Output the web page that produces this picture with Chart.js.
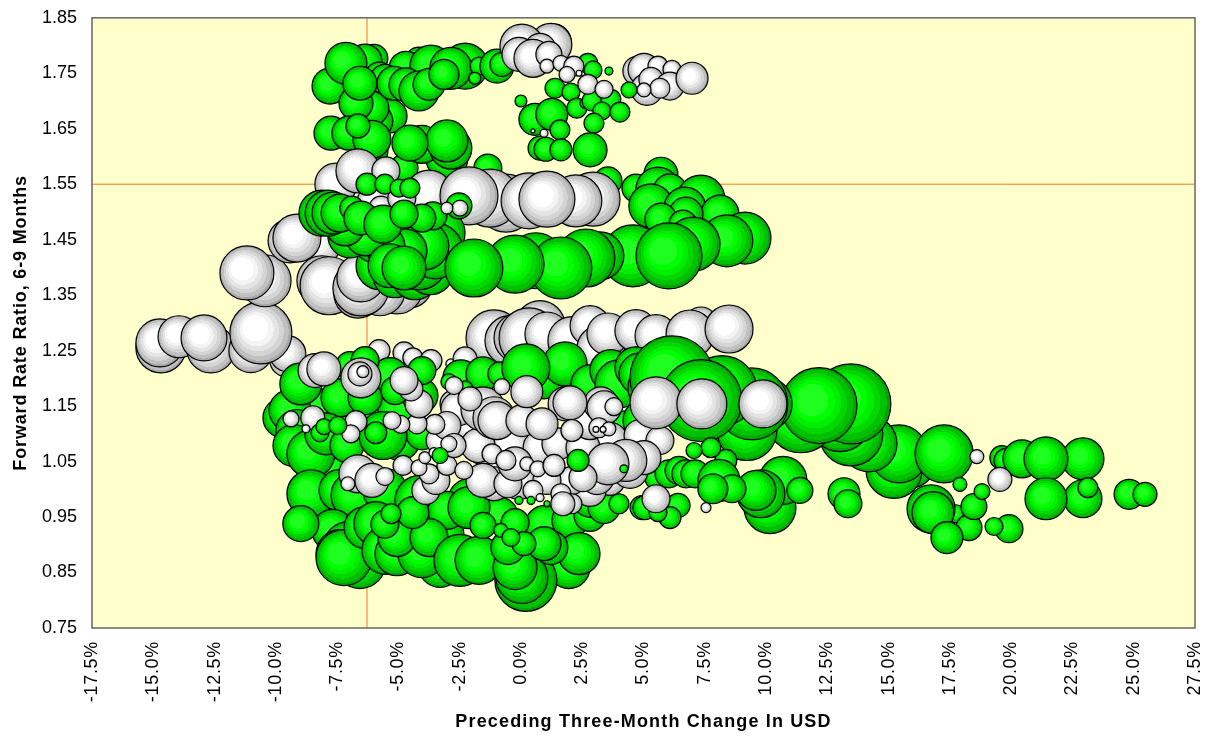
<!DOCTYPE html>
<html>
<head>
  <title>Forward Rate Ratio</title>
  <script src="https://cdn.jsdelivr.net/npm/chart.js"></script>
  <style>
    html, body { margin: 0; padding: 0; background: #fff; }
    #wrap { width: 1207px; height: 736px; }
  </style>
</head>
<body>
  <div id="wrap"><canvas id="chart"></canvas></div>
  <script>
    // each bubble is [usd change %, forward ratio, bubble size]; arrays are listed back to front
    const whiteFar = [
      [-14.69,1.255,25],[-14.73,1.264,24],[-13.95,1.275,21],[-12.65,1.253,24],[-12.93,1.273,23],
      [-11.02,1.25,22],[-9.59,1.232,16],[-9.51,1.244,18],[-10.61,1.282,31],
      [-10.44,1.376,26],[-11.18,1.39,27],[-8.2,1.439,20],[-9.42,1.448,22],[-9.14,1.453,24],
      [-8.12,1.376,25],[-7.83,1.367,29],[-4.53,1.367,22],[-5.06,1.363,26],[-5.75,1.358,25],
      [-6.65,1.352,24],[-6.53,1.363,28],[-6.53,1.381,24],
      [-1.1,1.273,28],[-0.45,1.268,25],[-0.08,1.273,25],[0.78,1.295,25],[0.33,1.273,30],
      [1.22,1.255,24],[1.06,1.28,22],[2.08,1.268,24],[2.82,1.295,20],[3.26,1.253,24],[3.55,1.28,21],
      [4.69,1.286,21],[5.51,1.277,21],[7.34,1.298,17],[6.9,1.28,24],[8.49,1.289,24],
      [-5.79,1.25,11],[-4.77,1.246,11],[-4.41,1.237,10],[-3.67,1.232,11],[-2.86,1.226,5],[-2.28,1.235,12]
    ];
    const greenFar = [
      [-7.79,1.727,18],[-6.0,1.777,14],[-6.36,1.772,17],[-7.14,1.768,21],
      [-5.34,1.673,17],[-5.92,1.664,17],[-6.08,1.687,17],[-6.73,1.696,17],
      [-4.16,1.772,14],[-4.69,1.759,17],[-3.67,1.763,21],[-2.28,1.763,23],[-2.86,1.759,21],
      [-1.71,1.763,9],[-1.88,1.741,6],[-0.98,1.763,17],[-0.78,1.766,12],
      [-5.79,1.745,14],[-5.55,1.739,15],[-5.18,1.732,17],[-4.69,1.729,17],[-4.16,1.718,20],
      [-3.75,1.73,16],[-3.14,1.748,15],[-6.57,1.732,17],
      [-7.75,1.642,17],[-7.02,1.642,17],[-6.08,1.61,16],[-6.08,1.631,19],[-6.65,1.655,12],
      [-4.77,1.579,14],[-1.35,1.579,14],[3.55,1.556,14],[-3.02,1.597,21],[-4.04,1.622,19],
      [-2.86,1.615,21],[-3.02,1.628,21],[-4.53,1.624,18],
      [5.71,1.568,17],[4.69,1.543,14],[5.59,1.541,22],[6.08,1.538,17],[7.34,1.523,24],[5.3,1.511,22],
      [6.69,1.507,21],[8.12,1.496,19],[6.73,1.496,17],[5.71,1.487,16],[6.61,1.478,14],
      [-8.2,1.142,22],[-6.98,1.142,20],[-7.79,1.043,22],[-8.4,1.088,24],[-6.16,1.133,22],[-4.94,1.142,22],
      [-4.94,1.088,20],[-7.18,1.205,18],[-5.34,1.205,18],[-4.12,1.169,18],
      [-9.71,1.129,20],[-9.42,1.142,21],[-8.98,1.19,21],[-9.14,1.106,21],[-9.26,1.079,21],[-8.57,1.064,24],
      [-7.38,1.165,19],[-6.36,1.165,17],[-6.98,1.223,14],[-6.36,1.232,14],[-4.04,1.214,14],[-5.14,1.178,14],
      [-7.96,1.1,21],[-7.1,1.079,17],[-4.04,1.1,16],[-5.63,1.097,24],
      [-8.57,0.992,24],[-7.38,0.998,21]
    ];
    const whiteRow = [
      [-7.55,1.55,21],[-6.65,1.574,22],[-5.51,1.574,14],[-3.3,1.532,17],[-3.75,1.532,24],
      [-5.92,1.516,19],[-5.71,1.507,12],[-4.86,1.525,14],
      [-0.61,1.516,29],[-1.26,1.525,29],[-2.12,1.529,29],[2.94,1.523,27],[2.24,1.52,26],[0.33,1.52,28],[1.06,1.523,28]
    ];
    const greenLow = [
      [-6.77,0.989,24],[-5.55,0.998,22],[-4.12,0.98,25],[-2.08,0.98,22],[-0.86,0.953,18],[0.98,0.935,20],[2.0,0.944,18],[2.82,0.953,16],
      [-3.3,0.917,24],[-3.3,0.863,22],[-6.57,0.868,26],
      [-7.67,0.926,21],[-7.02,0.895,26],[-7.38,0.884,24],[-7.22,0.877,28],[-8.98,0.938,18],
      [-3.02,0.962,19],[-2.12,0.967,21],[-6.36,0.931,21],[-5.92,0.938,22],
      [-5.51,0.89,24],[-5.06,0.884,22],[-4.04,0.884,24],[-5.06,0.913,19],[-3.75,0.913,19],[-4.41,0.958,16],
      [-2.49,0.872,26],[-1.71,0.872,24],[1.96,0.859,21],[2.37,0.884,21],[0.2,0.836,31],[0.04,0.841,26],
      [-0.24,0.859,22],[1.22,0.895,17],[0.94,0.902,17],[-0.53,0.895,17],[-0.24,0.94,14],[0.12,0.902,12],
      [-5.55,0.937,14],[-5.3,0.956,10],[-1.55,0.935,13],[-0.82,0.926,7],[-0.41,0.913,9],
      [2.82,0.98,17],[3.39,0.967,16],[4.0,0.974,10],[4.94,0.967,12]
    ];
    const greenBand = [
      [-5.75,1.403,24],[-5.14,1.385,22],[-4.32,1.385,24],[-3.71,1.394,24],
      [-4.16,1.412,29],[-3.3,1.462,25],[-4.12,1.457,22],[-5.14,1.448,22],[-5.96,1.448,22],[-6.98,1.457,22],
      [-4.53,1.43,25],[-3.51,1.43,28],[-3.92,1.439,24],[-4.73,1.43,22],[-5.55,1.439,20],[-6.36,1.457,20],[-7.18,1.475,20],
      [-5.34,1.403,22],[-4.77,1.399,22],
      [-8.12,1.498,23],[-7.87,1.498,23],[-7.67,1.498,21],[-7.38,1.498,19],[-6.9,1.507,12],[-6.53,1.489,17],
      [-5.63,1.478,19],[-3.59,1.493,14],[-4.04,1.489,14],[-4.77,1.496,14],
      [9.14,1.453,26],[8.4,1.448,26],[7.02,1.442,27],[4.57,1.421,31],[6.04,1.421,33],[3.22,1.421,24],
      [2.65,1.417,29],[0.61,1.412,28],[1.63,1.399,31],[-0.24,1.406,29],[-1.92,1.399,29],
      [17.38,1.066,26],[15.91,1.046,24],[15.22,1.034,28],[15.42,1.064,29],[17.26,1.064,29],
      [14.2,1.082,28],[13.46,1.1,32],[13.02,1.124,31],[11.42,1.129,35],[13.46,1.154,40],[12.16,1.151,38],
      [-2.45,1.201,18],[-1.55,1.208,17],[-0.86,1.208,12],[0.94,1.201,21],[1.8,1.226,22],[0.2,1.219,24],
      [2.82,1.19,19],[3.67,1.214,21],[4.0,1.19,24],[4.69,1.219,21],[4.86,1.208,21],[4.28,1.111,17],[5.02,1.124,21],
      [9.22,1.106,30],[9.96,1.154,27],[9.42,1.154,36],[8.2,1.178,35],[5.51,1.183,28],[6.16,1.201,42],[7.34,1.16,41],
      [19.62,1.057,12],[19.79,1.052,12],[20.44,1.055,19],[22.93,1.055,21],[21.42,1.055,22],
      [22.93,0.983,19],[23.13,1.003,10],[21.42,0.983,21],[24.81,0.991,15],[25.46,0.991,12],
      [17.75,0.956,9],[16.73,0.965,24],[16.81,0.958,21],[18.24,0.944,7],[18.28,0.931,13],[17.38,0.913,16],
      [18.48,0.969,13],[17.91,1.009,7],[18.81,0.996,8],[19.91,0.929,14],[19.3,0.933,9],
      [13.18,0.992,16],[13.34,0.974,14],[10.16,0.967,26],[10.69,1.016,24],[9.79,0.992,24],[9.59,0.998,20],[11.38,0.998,13],
      [8.36,1.052,11],[7.75,1.075,10],[7.06,1.07,8],[6.41,0.971,12],[6.08,0.949,11],[5.06,0.967,12],[5.59,0.958,9],
      [5.59,1.021,13],[6.04,1.028,14],[6.45,1.034,14],[6.73,1.028,14],[7.1,1.028,14],[8.08,1.016,21],[8.61,1.001,14],[7.83,1.001,15]
    ];
    const whiteMid = [
      [-1.26,1.034,14],[3.63,1.016,15],[4.45,1.034,18],[2.82,0.998,16],[-2.08,1.115,16],[-3.3,1.088,14],[3.63,1.088,18],[4.86,1.097,16],[5.67,1.088,14],
      [-1.55,1.075,17],[-0.41,1.075,21],[0.78,1.075,17],[1.51,1.082,16],[2.53,1.075,17],
      [2.82,1.124,19],[1.8,1.154,17],[3.26,1.154,17],[-0.08,1.016,19],[2.08,1.016,14],[3.1,1.021,17],
      [5.02,1.057,17],[4.28,1.052,21],[3.55,1.046,21],[2.53,1.021,14],[1.06,1.016,14],[0.49,0.998,10],
      [-1.1,1.01,17],[-1.55,1.016,17],[-0.53,1.01,14],[-0.24,1.046,17],[-1.75,1.079,17],
      [-2.73,1.154,14],[-2.57,1.145,17],[-1.55,1.145,22],[-1.1,1.129,21],[-0.98,1.124,19],[0.04,1.124,16],
      [0.86,1.118,16],[2.0,1.156,17],[3.39,1.147,17],[2.08,1.106,11],
      [-3.02,1.115,14],[-3.51,1.117,10],[-4.24,1.118,10],[-4.9,1.117,9],[-5.26,1.124,9],[-6.73,1.122,11],
      [-8.49,1.129,12],[-9.38,1.127,8],[-8.77,1.109,4],[-6.94,1.1,9],
      [-8.4,1.214,17],[-8.04,1.217,17],[-6.53,1.201,20],[-4.16,1.154,14],[-4.49,1.181,12],[-4.77,1.196,14],
      [-6.65,1.028,19],[-6.08,1.016,17],[-7.06,1.01,7],[-5.55,1.023,9],[-3.88,0.998,14],[-3.47,1.016,14],
      [-3.75,1.028,10],[-4.81,1.043,10],[-4.16,1.039,8],[-3.92,1.057,6],[-3.55,1.066,5],[-3.02,1.043,10],
      [-2.33,1.034,9],[-2.73,1.079,12],[-2.94,1.082,8],[-1.18,1.064,10],[-0.61,1.052,10],[0.24,1.046,7],[0.69,1.037,8],[1.35,1.043,11],
      [1.63,0.992,10],[2.08,0.974,10],[1.71,0.974,12],[0.78,0.985,4],[5.51,0.983,14],[7.55,0.967,5],
      [18.6,1.059,7],[19.54,1.018,12]
    ];
    const greenSmall = [
      [-8.2,1.102,9],[-8.04,1.113,8],[-7.47,1.115,9],[-5.92,1.102,11],[-2.94,1.194,8],[-2.28,1.181,8],[-3.3,1.061,8],
      [2.33,1.052,11],[4.2,1.037,4],[1.06,0.974,3],[-0.08,0.98,4],[0.41,0.98,4],
      [-6.28,1.55,11],[-5.55,1.55,10],[-4.98,1.543,9],[-4.53,1.543,10],[-2.53,1.511,13],
      [1.39,1.723,10],[2.04,1.716,9],[0,1.7,6],[0.57,1.667,16],[1.26,1.676,16],[2.28,1.687,10],[2.61,1.696,5],
      [2.9,1.7,10],[3.67,1.703,10],[3.3,1.682,9],[4.04,1.68,10],[2.98,1.66,10],[1.59,1.648,10],[0.78,1.615,12],
      [1.02,1.613,12],[1.63,1.612,11],[2.82,1.612,17],[2.73,1.768,10],[2.94,1.756,9],[3.59,1.754,4]
    ];
    const whiteTop = [
      [5.51,1.156,26],[7.38,1.154,25],[9.87,1.154,24],
      [-0.78,1.185,8],[-2.73,1.187,9],[-2.08,1.163,12],[0.24,1.176,16],[3.79,1.149,9],[3.18,1.111,10],[3.59,1.109,7],
      [3.35,1.108,3],[3.06,1.108,3],[-6.57,1.208,12],[-6.45,1.212,6],
      [-2.49,1.507,8],[-3.02,1.507,6],[0.94,1.642,4],[0.49,1.646,2],
      [1.35,1.808,17],[1.22,1.802,21],[0.04,1.799,22],[0.78,1.793,16],[-0.08,1.784,17],[0.49,1.777,19],[1.14,1.784,13],[1.06,1.763,7],
      [1.63,1.768,8],[2.16,1.763,10],[1.88,1.748,8],[2.37,1.75,3],[2.73,1.73,10],[3.39,1.721,9],
      [4.77,1.754,15],[5.02,1.757,16],[5.59,1.763,10],[6.16,1.757,9],[5.14,1.721,16],[5.3,1.739,12],[6.08,1.727,14],[6.98,1.741,16],[5.67,1.723,10]
    ];
    const greenFront = [[4.41,1.72,8]];
    const whiteFront = [[5.02,1.72,7]];

    const xTicksMin = -17.5, xTicksMax = 27.5, xStep = 2.5;
    const yTicksMin = 0.75, yTicksMax = 1.85, yStep = 0.1;
    const refX = -6.28, refY = 1.55;

    const greenBands = ['#1fff1f','#00ff00','#00ee00','#00d800','#00c000','#00a400'];
    const whiteBands = ['#ffffff','#f4f4f4','#e4e4e4','#d4d4d4','#c0c0c0','#a8a8a8'];
    const bandEdges = [0.42, 0.55, 0.68, 0.8, 0.92, 1];

    // stepped radial fill, lit from upper left like the old office 3D bubbles
    function shaded(bands) {
      return function (ctx) {
        const raw = ctx.raw;
        const sx = ctx.chart.scales.x, sy = ctx.chart.scales.y;
        if (!raw || !sx || !sy) return bands[2];
        const cx = sx.getPixelForValue(raw.x), cy = sy.getPixelForValue(raw.y);
        // the scales have no size yet during the first layout pass
        if (!Number.isFinite(cx) || !Number.isFinite(cy)) return bands[2];
        const g = ctx.chart.ctx.createRadialGradient(cx - raw.r * 0.3, cy - raw.r * 0.25, 0, cx, cy, raw.r);
        let from = 0;
        bands.forEach((c, i) => {
          g.addColorStop(from, c);
          g.addColorStop(bandEdges[i], c);
          from = bandEdges[i];
        });
        return g;
      };
    }

    const layers = [
      [whiteFar, whiteBands], [greenFar, greenBands], [whiteRow, whiteBands], [greenLow, greenBands],
      [greenBand, greenBands], [whiteMid, whiteBands], [greenSmall, greenBands], [whiteTop, whiteBands],
      [greenFront, greenBands], [whiteFront, whiteBands]
    ];

    const datasets = layers.map((l, i) => ({
      type: 'bubble',
      data: l[0].map(p => ({ x: p[0], y: p[1], r: p[2] })),
      backgroundColor: shaded(l[1]),
      borderColor: '#000',
      borderWidth: 1.2,
      order: layers.length - i
    }));
    const line = pts => ({
      type: 'scatter', data: pts, showLine: true, pointRadius: 0,
      borderColor: '#f07a1e', borderWidth: 1, order: layers.length + 1
    });
    datasets.push(line([{ x: refX, y: yTicksMin }, { x: refX, y: yTicksMax }]));
    datasets.push(line([{ x: xTicksMin, y: refY }, { x: xTicksMax, y: refY }]));

    // the reference text is spaced wider than the font, canvas letterSpacing does that
    function spaced(scale, method, px) {
      const orig = scale[method];
      scale[method] = function (...args) {
        const c = this.ctx;
        const prev = c.letterSpacing;
        c.letterSpacing = px;
        orig.apply(this, args);
        c.letterSpacing = prev;
      };
    }

    const plotFrame = {
      id: 'plotFrame',
      beforeDraw(chart) {
        if (chart.$spaced) return;
        chart.$spaced = true;
        spaced(chart.scales.x, 'drawTitle', '1.15px');
        spaced(chart.scales.y, 'drawTitle', '0.85px');
        spaced(chart.scales.x, 'drawLabels', '0.7px');
      },
      beforeDatasetsDraw(chart) {
        const a = chart.chartArea, c = chart.ctx;
        c.save();
        c.fillStyle = '#ffffcc';
        c.fillRect(a.left, a.top, a.width, a.height);
        c.restore();
      },
      afterDatasetsDraw(chart) {
        const a = chart.chartArea, c = chart.ctx;
        c.save();
        c.strokeStyle = '#666';
        c.lineWidth = 1.5;
        c.strokeRect(a.left, a.top, a.width, a.height);
        c.restore();
      }
    };

    const tickFont = { family: '"Liberation Sans", Arial, sans-serif', size: 18 };
    const titleFont = { family: '"Liberation Sans", Arial, sans-serif', size: 18, weight: 'bold' };

    new Chart(document.getElementById('chart'), {
      data: { datasets },
      plugins: [plotFrame],
      options: {
        responsive: true,
        maintainAspectRatio: false,
        animation: false,
        layout: { autoPadding: false, padding: { top: 17, right: 12, left: 10, bottom: 3 } },
        plugins: { legend: { display: false }, tooltip: { enabled: false } },
        scales: {
          x: {
            type: 'linear', min: xTicksMin, max: xTicksMax,
            grid: { display: false }, border: { display: false },
            afterFit(s) { s.height = 105; s.paddingRight = 0; s.paddingLeft = 0; },
            ticks: {
              stepSize: xStep, color: '#000', font: tickFont, padding: 5,
              minRotation: 90, maxRotation: 90, autoSkip: false,
              callback: v => v.toFixed(1) + '%'
            },
            title: { display: true, text: 'Preceding Three-Month Change In USD', color: '#000', font: titleFont, padding: 0 }
          },
          y: {
            type: 'linear', min: yTicksMin, max: yTicksMax,
            grid: { display: false }, border: { display: false },
            afterFit(s) { s.width = 82; },
            ticks: {
              stepSize: yStep, color: '#000', font: tickFont, padding: 7,
              callback: v => v.toFixed(2)
            },
            title: { display: true, text: 'Forward Rate Ratio, 6-9 Months', color: '#000', font: titleFont, padding: 0 }
          }
        }
      }
    });
  </script>
</body>
</html>
